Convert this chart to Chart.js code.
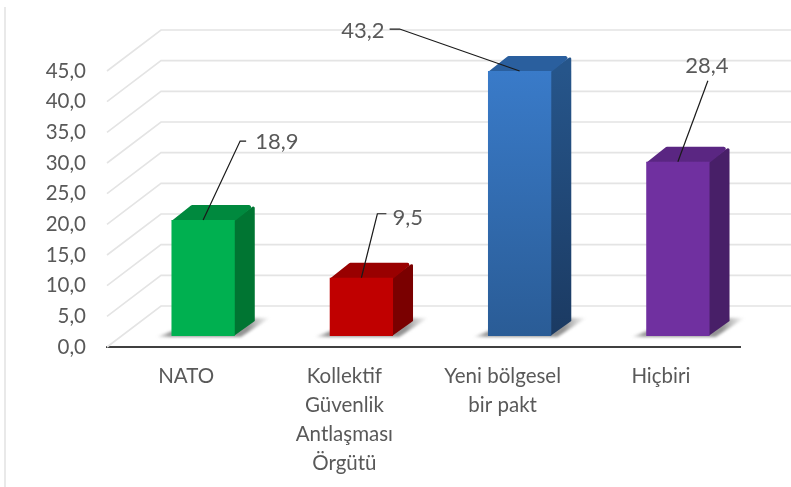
<!DOCTYPE html>
<html><head><meta charset="utf-8">
<style>html,body{margin:0;padding:0;background:#fff}canvas{display:block;filter:blur(.45px)}</style>
<script src="https://cdn.jsdelivr.net/npm/chart.js@4"></script>
</head><body>
<canvas id="c" width="791" height="487"></canvas>
<script>
const categories = [["NATO"],["Kollektif","Güvenlik","Antlaşması","Örgütü"],["Yeni bölgesel","bir pakt"],["Hiçbiri"]];
const values = [18.9, 9.5, 43.2, 28.4];
const valueLabels = ["18,9","9,5","43,2","28,4"];
const yTickLabels = ["0,0","5,0","10,0","15,0","20,0","25,0","30,0","35,0","40,0","45,0"];
const frontColors = ["#00B050","#C00000","#3A7CCB","#7030A0"];
const frontColorsLow = ["#00B050","#C00000","#2A5C96","#7030A0"];
const topColors = ["#00893E","#990000","#2A5F9E","#5A2682"];
const sideColors = ["#007532","#7A0000","#26558A","#481F68"];
const sideColorsLow = ["#007532","#7A0000","#1B3A62","#481F68"];
// leader style: elbow offset from bar top, label anchor offset from bar top
const leaders = [
  {ex:37, ey:-79, hx:6, tx:52, ty:-78, align:'left'},
  {ex:16, ey:-64, hx:9, tx:31, ty:-60, align:'left'},
  {ex:-120, ey:-42, hx:-10, tx:-135, ty:-40, align:'right'},
  {ex:30, ey:-81, hx:0, tx:29, ty:-96, align:'center'}
];
const BX = 17, BY = -11, DX = 20, DY = -15, WX = 54, WY = -41;
const FONT = 'Lato, Carlito, sans-serif';
const TEXT = '#595959';

const threeD = {
  id:'threeD',
  beforeDatasetsDraw(chart){
    const ctx = chart.ctx, y = chart.scales.y, x = chart.scales.x;
    ctx.save();
    ctx.strokeStyle='#e2e2e2'; ctx.lineWidth=1.5;
    ctx.beginPath(); ctx.moveTo(5,7); ctx.lineTo(5,487); ctx.stroke();
    ctx.strokeStyle='#e4e4e4'; ctx.lineWidth=1.6;
    y.ticks.forEach(t=>{
      const py = y.getPixelForValue(t.value);
      ctx.beginPath();
      ctx.moveTo(x.left, py);
      ctx.lineTo(x.left+WX, py+WY);
      ctx.lineTo(791, py+WY);
      ctx.stroke();
    });
    ctx.restore();
    ctx.save();
    ctx.translate(BX,BY);
    chart.getDatasetMeta(0).data.forEach((b,i)=>{
      const l=b.x-b.width/2, r=b.x+b.width/2, t=b.y, bt=b.base;
      ctx.save();
      ctx.filter='blur(1.5px)';
      const g=ctx.createLinearGradient(l-16,0,r+36,0);
      g.addColorStop(0,'rgba(120,120,120,0)');
      g.addColorStop(0.12,'rgba(120,120,120,.75)');
      g.addColorStop(0.8,'rgba(120,120,120,.8)');
      g.addColorStop(1,'rgba(150,150,150,0)');
      ctx.fillStyle=g;
      ctx.beginPath();
      ctx.moveTo(l-15,bt+1); ctx.lineTo(l+6,bt-7); ctx.lineTo(r+20,bt-18); ctx.lineTo(r+35,bt-18); ctx.lineTo(r+6,bt+1);
      ctx.closePath(); ctx.fill();
      ctx.restore();
      const sg=ctx.createLinearGradient(0,t,0,bt);
      sg.addColorStop(0,sideColors[i]); sg.addColorStop(1,sideColorsLow[i]);
      ctx.fillStyle=sg;
      ctx.beginPath();
      ctx.moveTo(r-1,t);
      ctx.arcTo(r+DX,t+DY,r+DX,bt+DY,1.5);
      ctx.lineTo(r+DX,bt+DY);
      ctx.lineTo(r-1,bt);
      ctx.closePath(); ctx.fill();
      ctx.fillStyle=topColors[i];
      ctx.beginPath();
      ctx.moveTo(l,t+1);
      ctx.arcTo(l+DX,t+DY,r+DX,t+DY,2);
      ctx.arcTo(r+DX,t+DY,r,t+1,2);
      ctx.lineTo(r,t+1);
      ctx.closePath(); ctx.fill();
    });
  },
  afterDatasetsDraw(chart){
    const ctx = chart.ctx;
    ctx.restore();
    ctx.save();
    ctx.font='22px '+FONT;
    ctx.textBaseline='middle';
    chart.getDatasetMeta(0).data.forEach((b,i)=>{
      const px=b.x+BX, py=b.y+BY, L=leaders[i];
      ctx.strokeStyle='#1a1a1a'; ctx.lineWidth=1.2;
      ctx.beginPath();
      ctx.moveTo(px,py);
      ctx.lineTo(px+L.ex,py+L.ey);
      if(L.hx) ctx.lineTo(px+L.ex+L.hx,py+L.ey);
      ctx.stroke();
      ctx.fillStyle=TEXT;
      ctx.textAlign=L.align;
      ctx.fillText(valueLabels[i],px+L.tx,py+L.ty);
    });
    ctx.restore();
  }
};

new Chart(document.getElementById('c'),{
  type:'bar',
  data:{labels:categories,datasets:[{
    data:values,
    barPercentage:0.4,categoryPercentage:1,
    borderWidth:0,
    backgroundColor(c){
      const ca=c.chart.chartArea;
      if(!ca) return frontColors[c.dataIndex];
      const i=c.dataIndex, g=c.chart.ctx.createLinearGradient(0,ca.top,0,ca.bottom);
      g.addColorStop(0,frontColors[i]); g.addColorStop(1,frontColorsLow[i]);
      return g;
    }
  }]},
  options:{
    responsive:false,animation:false,
    layout:{padding:{top:71,right:51,left:0,bottom:0}},
    plugins:{legend:{display:false},tooltip:{enabled:false},title:{display:false}},
    scales:{
      x:{
        grid:{display:false,drawTicks:false},
        border:{display:true,color:'#404040',width:2},
        afterFit(s){s.height=140;},
        ticks:{color:TEXT,font:{family:FONT,size:20.5,lineHeight:1.41},padding:15,maxRotation:0,minRotation:0,autoSkip:false}
      },
      y:{
        min:0,max:45,
        grid:{display:false,drawTicks:false},
        border:{display:false},
        afterFit(s){s.width=107;},
        ticks:{stepSize:5,color:TEXT,font:{family:FONT,size:20.5},padding:21,autoSkip:false,
          callback(v,i){return yTickLabels[i];}}
      }
    }
  },
  plugins:[threeD]
});
</script>
</body></html>
